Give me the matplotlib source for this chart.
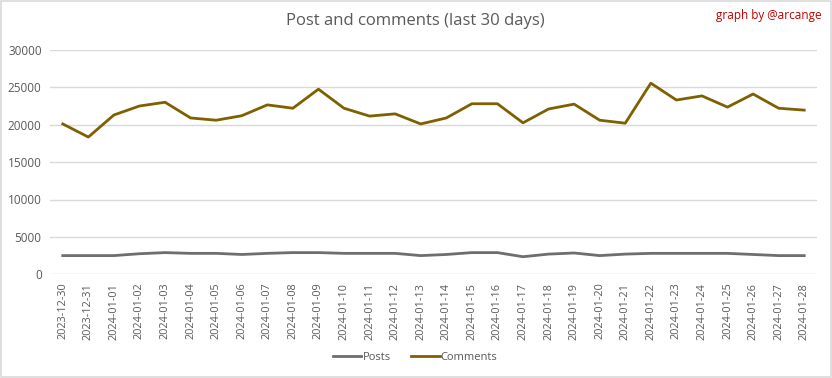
import matplotlib
matplotlib.use("Agg")
import matplotlib.pyplot as plt
from matplotlib.patches import Rectangle

dates = ["2023-12-30", "2023-12-31"] + [f"2024-01-{d:02d}" for d in range(1, 29)]
posts = [2500, 2500, 2500, 2750, 2900, 2800, 2800, 2650, 2800, 2900,
         2900, 2800, 2800, 2800, 2500, 2650, 2900, 2900, 2350, 2700,
         2850, 2500, 2700, 2800, 2800, 2800, 2800, 2650, 2500, 2500]
comments = [20100, 18350, 21300, 22500, 23000, 20900, 20600, 21200, 22650, 22200,
            24750, 22200, 21150, 21450, 20100, 20900, 22800, 22800, 20250, 22100,
            22750, 20600, 20200, 25550, 23300, 23850, 22350, 24100, 22200, 21950]
yticks = [0, 5000, 10000, 15000, 20000, 25000, 30000]

plt.rcParams['font.family'] = ['Open Sans', 'DejaVu Sans']

fig = plt.figure(figsize=(8.32, 3.78), dpi=100)
fig.patches.append(Rectangle((0.0015, 0.002), 0.997, 0.996, transform=fig.transFigure,
                             fill=False, edgecolor='#d9d9d9', linewidth=1.2))
ax = fig.add_axes([50/832, 1-274.3/378, (817-50)/832, (274.3-49.9)/378])

x = list(range(len(dates)))
ax.plot(x, posts, color='#6e6e6e', linewidth=2.0, label='Posts', solid_joinstyle='round')
ax.plot(x, comments, color='#7f6000', linewidth=2.0, label='Comments', solid_joinstyle='round')

ax.set_xlim(-0.5, len(dates) - 0.5)
ax.set_ylim(0, 30000)
ax.set_yticks(yticks)
ax.set_yticklabels([str(v) for v in yticks], fontsize=8.5, color='#595959')
ax.set_xticks(x)
ax.set_xticklabels(dates, rotation=90, fontsize=7.8, color='#595959')
ax.tick_params(axis='both', length=0, pad=6)
ax.grid(axis='y', color='#d9d9d9', linewidth=1)
ax.set_axisbelow(True)
for s in ax.spines.values():
    s.set_visible(False)

fig.text(415/832, 1-21/378, 'Post and comments (last 30 days)', ha='center', va='center',
         fontsize=12, color='#595959')
fig.text(822/832, 1-15/378, 'graph by @arcange', ha='right', va='center',
         fontsize=8.5, color='#c00000')

fig.legend(loc='center', bbox_to_anchor=(415/832, 1-357/378), ncol=2, frameon=False,
           fontsize=8, labelcolor='#595959', handlelength=2.6, columnspacing=1.8,
           handletextpad=0.1)

fig.savefig('out.png', dpi=100, facecolor='white')
